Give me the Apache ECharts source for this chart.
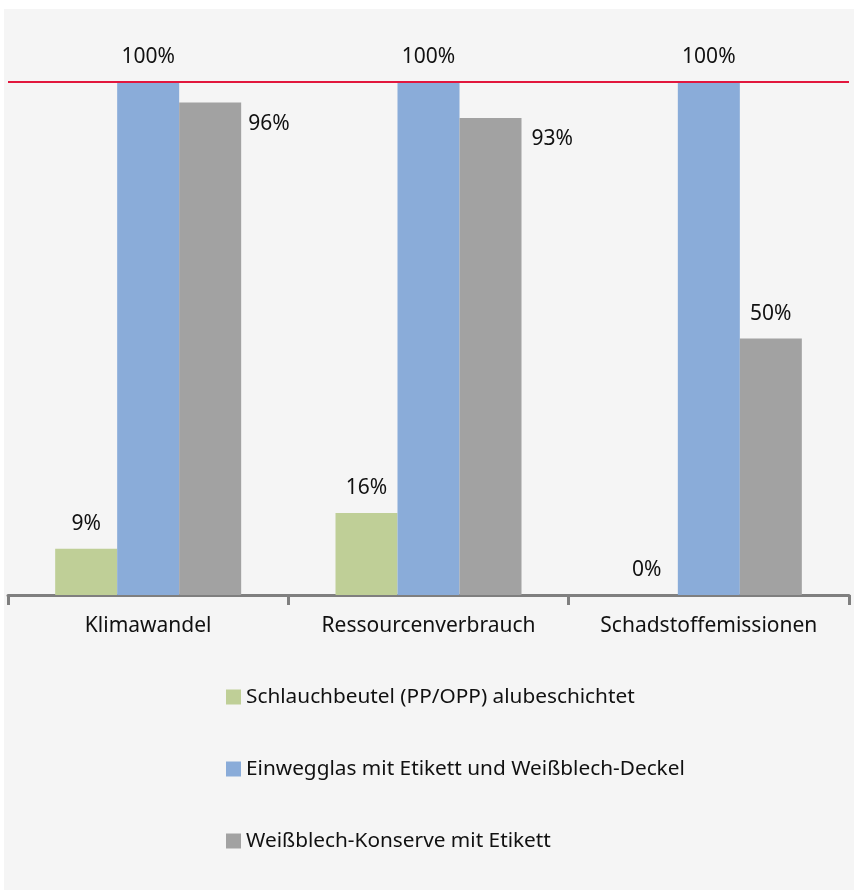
<!DOCTYPE html>
<html>
<head>
<meta charset="utf-8">
<script src="https://cdn.jsdelivr.net/npm/echarts@6/dist/echarts.min.js"></script>
<style>
  html, body { margin: 0; padding: 0; background: #ffffff; }
  #chart { position: absolute; left: 4px; top: 9px; width: 850px; height: 881px; background: #f5f5f5; }
</style>
</head>
<body>
<div id="chart"></div>
<script>
// Impact categories on the x axis
const categories = ['Klimawandel', 'Ressourcenverbrauch', 'Schadstoffemissionen'];

// Packaging variants (legend entries)
const seriesNames = [
  'Schlauchbeutel (PP/OPP) alubeschichtet',
  'Einwegglas mit Etikett und Weißblech-Deckel',
  'Weißblech-Konserve mit Etikett'
];

// Relative impact in percent (glass jar = 100 %)
const schlauchbeutel = [9, 16, 0];
const einwegglas = [100, 100, 100];
const konserve = [96, 93, 50];

// Reference level drawn as a red line
const referenceLevel = 100;

const colors = ['#bfcf97', '#8aacd9', '#a2a2a2'];
const fontFamily = '"Noto Sans", sans-serif';
const textColor = '#111111';

const baseLabel = {
  show: true,
  position: 'top',
  distance: 14,
  formatter: '{c}%',
  color: textColor,
  fontSize: 21,
  fontFamily: fontFamily
};

// Labels of the tin-can bars that would collide with the red line sit beside the bar
const sideLabel = (dx) => ({
  position: [62 + dx, 21],
  align: 'left',
  verticalAlign: 'middle'
});

const konserveData = konserve.map((v, i) => {
  if (v >= 90) {
    return { value: v, label: sideLabel(i === 0 ? 7 : 10) };
  }
  return v;
});

const chart = echarts.init(document.getElementById('chart'));
chart.setOption({
  animation: false,
  backgroundColor: '#f5f5f5',
  grid: { left: 4, right: 5, top: 73, bottom: 295, containLabel: false },
  xAxis: {
    type: 'category',
    data: categories,
    axisLine: { show: true, lineStyle: { color: '#7f7f7f', width: 3 } },
    axisTick: { show: true, interval: 0, length: 10, lineStyle: { color: '#7f7f7f', width: 3 } },
    axisLabel: { interval: 0, color: textColor, fontSize: 21, fontFamily: fontFamily, margin: 21 }
  },
  yAxis: {
    type: 'value',
    min: 0,
    max: 100,
    show: false,
    splitLine: { show: false }
  },
  legend: {
    orient: 'vertical',
    left: 217,
    top: 671,
    icon: 'rect',
    itemWidth: 15,
    itemHeight: 15,
    itemGap: 48,
    data: seriesNames,
    textStyle: { color: textColor, fontSize: 20.8, fontFamily: fontFamily, lineHeight: 24 }
  },
  series: [
    {
      name: seriesNames[0],
      type: 'bar',
      data: schlauchbeutel,
      barWidth: 62,
      barGap: '0%',
      itemStyle: { color: colors[0] },
      label: baseLabel
    },
    {
      name: seriesNames[1],
      type: 'bar',
      data: einwegglas,
      barWidth: 62,
      barGap: '0%',
      itemStyle: { color: colors[1] },
      label: baseLabel,
      markLine: {
        silent: true,
        symbol: 'none',
        z: 10,
        label: { show: false },
        lineStyle: { color: '#e2173d', width: 2, type: 'solid' },
        data: [{ yAxis: referenceLevel }]
      }
    },
    {
      name: seriesNames[2],
      type: 'bar',
      data: konserveData,
      barWidth: 62,
      barGap: '0%',
      itemStyle: { color: colors[2] },
      label: baseLabel
    }
  ]
});
</script>
</body>
</html>
